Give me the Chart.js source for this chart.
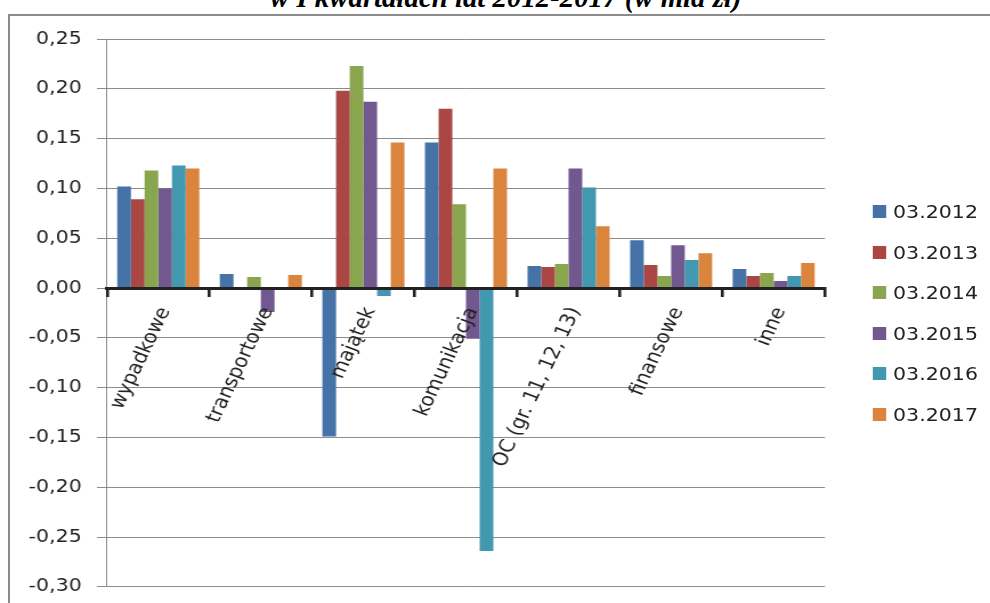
<!DOCTYPE html>
<html lang="pl">
<head>
<meta charset="utf-8">
<title>Wynik techniczny w I kwartałach lat 2012-2017</title>
<script src="https://cdn.jsdelivr.net/npm/chart.js@4/dist/chart.umd.min.js"></script>
<style>
  html, body { margin: 0; padding: 0; background: #fff; width: 990px; height: 603px; overflow: hidden; }
  #frame {
    position: absolute; left: 8px; top: 14px; width: 1100px; height: 800px;
    border-left: 2px solid #8c8c8c; border-top: 2px solid #8c8c8c;
  }
  #title {
    position: absolute; top: -16px; left: 270px; white-space: nowrap;
    font-family: 'Liberation Serif', serif; font-style: italic; font-weight: bold;
    font-size: 29px; line-height: 26px; color: #000; transform-origin: 0 0;
  }
  /* the chart is laid out slightly narrower and widened with a horizontal scale */
  #stage {
    position: absolute; left: 0; top: 0; width: 868px; height: 611px;
    transform: scaleX(1.140553); transform-origin: 0 0;
  }
  #stage canvas { display: block; }
  .lg-item {
    position: absolute; left: 764.5px; height: 20px;
    display: flex; align-items: center; white-space: nowrap;
    font-family: 'DejaVu Sans', sans-serif; font-size: 18px; color: #222;
  }
  .lg-box { width: 12.5px; height: 13px; margin-right: 6px; flex: none; }
</style>
</head>
<body>
<div id="frame"></div>
<div id="title">w I kwartałach lat 2012-2017 (w mld zł)</div>
<div id="stage">
  <canvas id="chart"></canvas>
  <div id="legend"></div>
</div>
<script>
// Insurance lines (categories on the x axis)
const categories = ['wypadkowe', 'transportowe', 'majątek', 'komunikacja', 'OC (gr. 11, 12, 13)', 'finansowe', 'inne'];

// Series names: end of the first quarter of each year
const seriesLabels = ['03.2012', '03.2013', '03.2014', '03.2015', '03.2016', '03.2017'];

// Values in bln zł, one array per year
const q2012 = [0.102, 0.014, -0.149, 0.146, 0.022, 0.048, 0.019];
const q2013 = [0.089, 0.000, 0.198, 0.180, 0.021, 0.023, 0.012];
const q2014 = [0.118, 0.011, 0.223, 0.084, 0.024, 0.012, 0.015];
const q2015 = [0.100, -0.024, 0.187, -0.051, 0.120, 0.043, 0.007];
const q2016 = [0.123, 0.000, -0.008, -0.264, 0.101, 0.028, 0.012];
const q2017 = [0.120, 0.013, 0.146, 0.120, 0.062, 0.035, 0.025];

// Value axis range and step
const yMin = -0.30;
const yMax = 0.25;
const yStep = 0.05;

const seriesValues = [q2012, q2013, q2014, q2015, q2016, q2017];
const seriesColors = ['#4572A7', '#AA4643', '#89A54E', '#71588F', '#4198AF', '#DB843D'];

const textColor = '#222';
const tickFont = { family: "'DejaVu Sans', sans-serif", size: 18 };
const catFont = { family: "'DejaVu Sans', sans-serif", size: 18.5 };

const datasets = seriesLabels.map((label, i) => ({
  label: label,
  data: seriesValues[i],
  backgroundColor: seriesColors[i],
  borderWidth: 0,
  categoryPercentage: 0.8,
  barPercentage: 1.0
}));

function formatPl(v) {
  const n = Math.abs(v) < 1e-9 ? 0 : v;
  return n.toFixed(2).replace('.', ',');
}

new Chart(document.getElementById('chart'), {
  type: 'bar',
  data: { labels: categories, datasets: datasets },
  options: {
    responsive: true,
    maintainAspectRatio: false,
    animation: false,
    layout: { padding: { left: 0, right: 144.7, top: 39, bottom: 24.2 } },
    plugins: {
      legend: { display: false },
      title: { display: false },
      tooltip: { enabled: false }
    },
    scales: {
      x: {
        type: 'category',
        position: { y: 0 },
        offset: true,
        grid: {
          offset: true,
          drawOnChartArea: false,
          drawTicks: true,
          tickLength: 7,
          color: '#222',
          lineWidth: 2.6,
          z: 1
        },
        border: { display: true, color: '#222', width: 3, z: 1 },
        ticks: {
          autoSkip: false,
          minRotation: 67,
          maxRotation: 67,
          padding: 9,
          labelOffset: 6,
          color: textColor,
          font: catFont,
          z: 1
        }
      },
      y: {
        type: 'linear',
        position: 'left',
        min: yMin,
        max: yMax,
        afterFit: (scale) => { scale.width = 93.8; },
        grid: {
          color: '#8c8c8c',
          lineWidth: 1,
          drawTicks: true,
          tickLength: 8.8
        },
        border: { display: true, color: '#8c8c8c', width: 1 },
        ticks: {
          stepSize: yStep,
          padding: 13.4,
          color: textColor,
          font: tickFont,
          callback: (v) => formatPl(v)
        }
      }
    }
  }
});

// Legend on the right side
const legendEl = document.getElementById('legend');
seriesLabels.forEach((label, i) => {
  const item = document.createElement('div');
  item.className = 'lg-item';
  item.style.top = (211.7 + 40.5 * i - 10) + 'px';
  const box = document.createElement('span');
  box.className = 'lg-box';
  box.style.background = seriesColors[i];
  const txt = document.createElement('span');
  txt.textContent = label;
  item.appendChild(box);
  item.appendChild(txt);
  legendEl.appendChild(item);
});

// Fit the heading to its span above the frame
const titleEl = document.getElementById('title');
const titleWidth = 472;
titleEl.style.transform = 'scaleX(' + (titleWidth / titleEl.offsetWidth) + ')';
</script>
</body>
</html>
